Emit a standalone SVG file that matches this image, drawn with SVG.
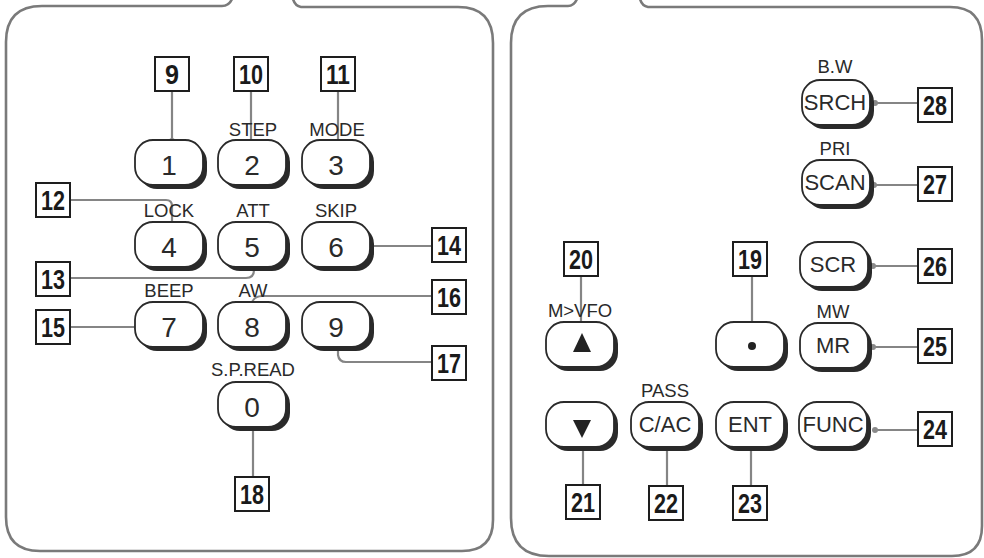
<svg xmlns="http://www.w3.org/2000/svg" xmlns:xlink="http://www.w3.org/1999/xlink" width="984" height="558" viewBox="0 0 984 558">
<style>
.panel{fill:none;stroke:#7a7a7a;stroke-width:2.6}
.conn{fill:none;stroke:#858585;stroke-width:2.2}
.dot{fill:#8a8a8a}
.box{fill:#fff;stroke:#1e1e1e;stroke-width:2}
.num{font-family:"Liberation Sans",Arial,sans-serif;font-weight:bold;font-size:28px;fill:#1a1a1a;text-anchor:middle}
.key{font-family:"Liberation Sans",Arial,sans-serif;font-size:28px;fill:#2a2a2a;text-anchor:middle}
.rkey{font-family:"Liberation Sans",Arial,sans-serif;font-size:22px;fill:#2a2a2a;text-anchor:middle}
.lab{font-family:"Liberation Sans",Arial,sans-serif;font-size:18.5px;fill:#2a2a2a;text-anchor:middle}
</style>
<defs>
<g id="btn">
<rect x="4" y="4" width="68" height="45" rx="18" fill="#2a2a2a"/>
<rect x="0" y="0" width="68" height="45" rx="18" fill="#fff" stroke="#2a2a2a" stroke-width="1.8"/>
</g>
</defs>
<rect width="984" height="558" fill="#fff"/>
<g id="panels">
<path class="panel" d="M232,-1 Q229,6 222,6 L42,6 Q6,6 6,42 L6,517 Q6,551 40,551 L462,551 Q493,551 493,520 L493,43 Q493,7 458,7 L301,7 Q295,6 293,-1"/>
<path class="panel" d="M577,-1 Q574,6 568,6 L548,6 Q511,6 511,43 L511,518 Q511,556 549,556 L952,556 Q982,556 982,526 L982,40 Q982,7 950,7 L648,7 Q642,6 640,-1"/>
</g>
<g id="connectors">
<path class="conn" d="M172,91 V140"/><circle class="dot" cx="172" cy="141" r="3"/>
<path class="conn" d="M251,91 V141"/><circle class="dot" cx="251" cy="142" r="3"/>
<path class="conn" d="M338,91 V142"/><circle class="dot" cx="338" cy="143" r="3"/>
<path class="conn" d="M70,200 H166 Q172,200 172,206 V228"/><circle class="dot" cx="172" cy="228" r="3"/>
<path class="conn" d="M70,278 H246 Q254,278 254,270 V266"/><circle class="dot" cx="254" cy="266" r="3"/>
<path class="conn" d="M432,246 H364"/><circle class="dot" cx="363" cy="246" r="3"/>
<path class="conn" d="M70,327 H137"/><circle class="dot" cx="137" cy="327" r="3"/>
<path class="conn" d="M432,296 H262 Q255,296 252,302 L248,309"/><circle class="dot" cx="248" cy="310" r="3"/>
<path class="conn" d="M432,362 H346 Q339,362 338,355 V348"/><circle class="dot" cx="337" cy="347" r="3"/>
<path class="conn" d="M253,428 V477"/><circle class="dot" cx="253" cy="428" r="3"/>
<path class="conn" d="M918,103 H875"/><circle class="dot" cx="875" cy="103" r="3"/>
<path class="conn" d="M918,185 H874"/><circle class="dot" cx="874" cy="185" r="3"/>
<path class="conn" d="M918,266 H873"/><circle class="dot" cx="873" cy="266" r="3"/>
<path class="conn" d="M918,347 H873"/><circle class="dot" cx="873" cy="347" r="3"/>
<path class="conn" d="M918,430 H875"/><circle class="dot" cx="875" cy="430" r="3"/>
<path class="conn" d="M581,276 V327"/><circle class="dot" cx="581" cy="327" r="3"/>
<path class="conn" d="M752,276 V327"/><circle class="dot" cx="752" cy="328" r="3"/>
<path class="conn" d="M583,445 V485"/><circle class="dot" cx="583" cy="445" r="3"/>
<path class="conn" d="M667,447 V486"/><circle class="dot" cx="667" cy="447" r="3"/>
<path class="conn" d="M751,447 V486"/><circle class="dot" cx="751" cy="447" r="3"/>
</g>
<g id="key1"><use xlink:href="#btn" x="135" y="140"/><text class="key" x="169" y="175">1</text></g>
<g id="key2"><use xlink:href="#btn" x="218" y="140"/><text class="lab" x="253" y="136">STEP</text><text class="key" x="252" y="175">2</text></g>
<g id="key3"><use xlink:href="#btn" x="302" y="140"/><text class="lab" x="337" y="136">MODE</text><text class="key" x="336" y="175">3</text></g>
<g id="key4"><use xlink:href="#btn" x="135" y="222"/><text class="lab" x="169" y="217">LOCK</text><text class="key" x="169" y="257">4</text></g>
<g id="key5"><use xlink:href="#btn" x="218" y="222"/><text class="lab" x="253" y="217">ATT</text><text class="key" x="252" y="257">5</text></g>
<g id="key6"><use xlink:href="#btn" x="302" y="222"/><text class="lab" x="336" y="217">SKIP</text><text class="key" x="336" y="257">6</text></g>
<g id="key7"><use xlink:href="#btn" x="135" y="302"/><text class="lab" x="169" y="297">BEEP</text><text class="key" x="169" y="337">7</text></g>
<g id="key8"><use xlink:href="#btn" x="218" y="302"/><text class="lab" x="253" y="297">AW</text><text class="key" x="252" y="337">8</text></g>
<g id="key9"><use xlink:href="#btn" x="302" y="302"/><text class="key" x="336" y="337">9</text></g>
<g id="key0"><use xlink:href="#btn" x="218" y="382"/><text class="lab" x="253" y="376">S.P.READ</text><text class="key" x="252" y="417">0</text></g>
<g id="keySRCH"><use xlink:href="#btn" x="802" y="80"/><text class="lab" x="835" y="73">B.W</text><text class="rkey" x="835" y="110">SRCH</text></g>
<g id="keySCAN"><use xlink:href="#btn" x="802" y="160"/><text class="lab" x="835" y="155">PRI</text><text class="rkey" x="835" y="190">SCAN</text></g>
<g id="keySCR"><use xlink:href="#btn" x="800" y="242"/><text class="rkey" x="833" y="272">SCR</text></g>
<g id="keyMR"><use xlink:href="#btn" x="800" y="323"/><text class="lab" x="833" y="318">MW</text><text class="rkey" x="833" y="353">MR</text></g>
<g id="keyFUNC"><use xlink:href="#btn" x="799" y="402"/><text class="rkey" x="833" y="432">FUNC</text></g>
<g id="keyDOT"><use xlink:href="#btn" x="716" y="322"/><circle cx="752" cy="346" r="4" fill="#222"/></g>
<g id="keyUP"><use xlink:href="#btn" x="546" y="322"/><text class="lab" x="580" y="317">M&gt;VFO</text><polygon points="582,333 573,352 591,352" fill="#222"/></g>
<g id="keyDOWN"><use xlink:href="#btn" x="546" y="402"/><polygon points="573,420 591,420 582,438" fill="#222"/></g>
<g id="keyCAC"><use xlink:href="#btn" x="631" y="402"/><text class="lab" x="665" y="397">PASS</text><text class="rkey" x="665" y="432">C/AC</text></g>
<g id="keyENT"><use xlink:href="#btn" x="716" y="402"/><text class="rkey" x="750" y="432">ENT</text></g>
<g id="b9"><rect class="box" x="155" y="57" width="34" height="34"/><text class="num" x="172" y="84" textLength="14" lengthAdjust="spacingAndGlyphs">9</text></g>
<g id="b10"><rect class="box" x="234" y="57" width="34" height="34"/><text class="num" x="251" y="84" textLength="24" lengthAdjust="spacingAndGlyphs">10</text></g>
<g id="b11"><rect class="box" x="321" y="57" width="34" height="34"/><text class="num" x="338" y="84" textLength="24" lengthAdjust="spacingAndGlyphs">11</text></g>
<g id="b12"><rect class="box" x="36" y="183" width="34" height="34"/><text class="num" x="53" y="210" textLength="24" lengthAdjust="spacingAndGlyphs">12</text></g>
<g id="b13"><rect class="box" x="36" y="262" width="34" height="34"/><text class="num" x="53" y="289" textLength="24" lengthAdjust="spacingAndGlyphs">13</text></g>
<g id="b14"><rect class="box" x="432" y="228" width="34" height="34"/><text class="num" x="449" y="255" textLength="24" lengthAdjust="spacingAndGlyphs">14</text></g>
<g id="b15"><rect class="box" x="36" y="310" width="34" height="34"/><text class="num" x="53" y="337" textLength="24" lengthAdjust="spacingAndGlyphs">15</text></g>
<g id="b16"><rect class="box" x="432" y="280" width="34" height="34"/><text class="num" x="449" y="307" textLength="24" lengthAdjust="spacingAndGlyphs">16</text></g>
<g id="b17"><rect class="box" x="432" y="346" width="34" height="34"/><text class="num" x="449" y="373" textLength="24" lengthAdjust="spacingAndGlyphs">17</text></g>
<g id="b18"><rect class="box" x="235" y="477" width="34" height="34"/><text class="num" x="252" y="504" textLength="24" lengthAdjust="spacingAndGlyphs">18</text></g>
<g id="b19"><rect class="box" x="733" y="242" width="34" height="34"/><text class="num" x="750" y="269" textLength="24" lengthAdjust="spacingAndGlyphs">19</text></g>
<g id="b20"><rect class="box" x="564" y="242" width="34" height="34"/><text class="num" x="581" y="269" textLength="24" lengthAdjust="spacingAndGlyphs">20</text></g>
<g id="b21"><rect class="box" x="566" y="485" width="34" height="34"/><text class="num" x="583" y="512" textLength="24" lengthAdjust="spacingAndGlyphs">21</text></g>
<g id="b22"><rect class="box" x="649" y="486" width="34" height="34"/><text class="num" x="666" y="513" textLength="24" lengthAdjust="spacingAndGlyphs">22</text></g>
<g id="b23"><rect class="box" x="733" y="486" width="34" height="34"/><text class="num" x="750" y="513" textLength="24" lengthAdjust="spacingAndGlyphs">23</text></g>
<g id="b24"><rect class="box" x="918" y="412" width="34" height="34"/><text class="num" x="935" y="439" textLength="24" lengthAdjust="spacingAndGlyphs">24</text></g>
<g id="b25"><rect class="box" x="918" y="329" width="34" height="34"/><text class="num" x="935" y="356" textLength="24" lengthAdjust="spacingAndGlyphs">25</text></g>
<g id="b26"><rect class="box" x="918" y="249" width="34" height="34"/><text class="num" x="935" y="276" textLength="24" lengthAdjust="spacingAndGlyphs">26</text></g>
<g id="b27"><rect class="box" x="918" y="167" width="34" height="34"/><text class="num" x="935" y="194" textLength="24" lengthAdjust="spacingAndGlyphs">27</text></g>
<g id="b28"><rect class="box" x="918" y="88" width="34" height="34"/><text class="num" x="935" y="115" textLength="24" lengthAdjust="spacingAndGlyphs">28</text></g>
</svg>
